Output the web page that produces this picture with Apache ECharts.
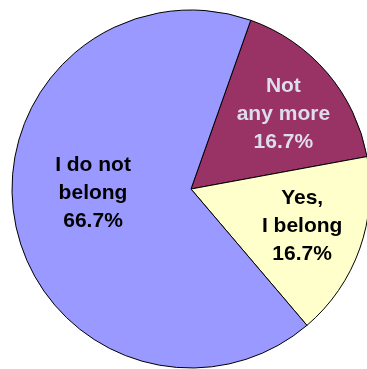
<!DOCTYPE html>
<html>
<head>
<meta charset="utf-8">
<script src="https://cdn.jsdelivr.net/npm/echarts@6/dist/echarts.min.js"></script>
<style>html,body{margin:0;padding:0;background:#fff;}#c{width:367px;height:369px;}</style>
</head>
<body>
<div id="c"></div>
<script>
var categories = ['Not\nany more', 'Yes,\nI belong', 'I do not\nbelong'];
var values = [16.7, 16.7, 66.7];
var colors = ['#993366', '#FFFFCC', '#9999FF'];
var labelColors = ['#DDDDEE', '#000000', '#000000'];
var labelOffsets = [[22, -15], [24, 6], [-7, -13]];

var data = categories.map(function (c, i) {
  return {
    name: c,
    value: values[i],
    itemStyle: { color: colors[i] },
    label: { color: labelColors[i], offset: labelOffsets[i] }
  };
});

var chart = echarts.init(document.getElementById('c'), null, { renderer: 'canvas' });
chart.setOption({
  animation: false,
  series: [{
    type: 'pie',
    center: [191, 189],
    radius: [0, 179],
    startAngle: 70.5,
    clockwise: true,
    avoidLabelOverlap: false,
    itemStyle: { borderColor: '#000', borderWidth: 1 },
    label: {
      show: true,
      position: 'inside',
      fontFamily: 'Liberation Sans, Arial, sans-serif',
      fontWeight: 'bold',
      fontSize: 21,
      lineHeight: 28,
      align: 'center',
      formatter: function (p) { return p.name + '\n' + p.value.toFixed(1) + '%'; }
    },
    labelLine: { show: false },
    emphasis: { disabled: true },
    data: data
  }]
});
</script>
</body>
</html>
